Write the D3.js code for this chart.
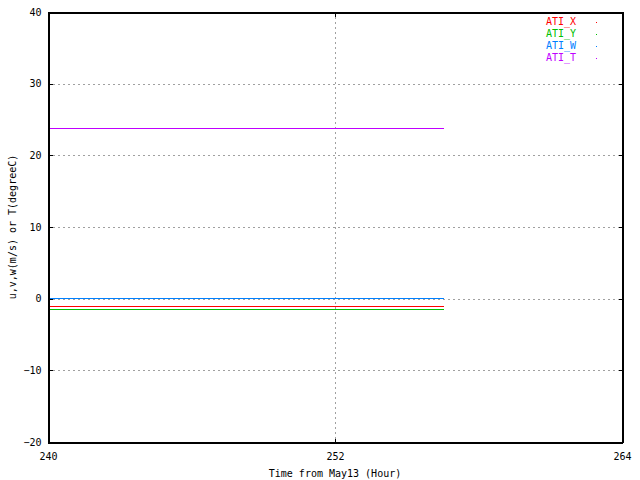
<!DOCTYPE html>
<html><head><meta charset="utf-8">
<script src="https://cdn.jsdelivr.net/npm/d3@7"></script>
<style>
html,body{margin:0;padding:0;background:#fff;}
text{font-family:"DejaVu Sans Mono","Liberation Mono",monospace;font-size:10px;fill:#000;}
</style></head>
<body>
<svg id="chart" width="640" height="480"></svg>
<script>
// Data
const times = [240, 256.54];
const seriesNames = ["ATI_X", "ATI_Y", "ATI_W", "ATI_T"];
const atiX = [-1.07, -1.07];
const atiY = [-1.44, -1.44];
const atiW = [0.1, 0.1];
const atiT = [23.8, 23.8];
const colors = ["#ff0000", "#00c000", "#0080ff", "#c000ff"];
const xTicks = [240, 252, 264];
const yTicks = [-20, -10, 0, 10, 20, 30, 40];

const svg = d3.select("#chart");
const L = 48, R = 622, T = 12, B = 442;
const x = d3.scaleLinear().domain([240, 264]).range([L, R]);
const y = d3.scaleLinear().domain([-20, 40]).range([B, T]);

svg.append("rect").attr("width", 640).attr("height", 480).attr("fill", "#fff");

// grid
const g = svg.append("g").attr("shape-rendering", "crispEdges");
g.selectAll(".gy").data(yTicks.filter(d => d > -20 && d < 40)).enter().append("line")
  .attr("x1", L).attr("x2", R).attr("y1", d => Math.round(y(d)) + 0.5).attr("y2", d => Math.round(y(d)) + 0.5)
  .attr("stroke", "#a0a0a0").attr("stroke-dasharray", "2,3");
g.selectAll(".gx").data(xTicks.filter(d => d > 240 && d < 264)).enter().append("line")
  .attr("y1", T).attr("y2", B).attr("x1", d => Math.round(x(d)) + 0.5).attr("x2", d => Math.round(x(d)) + 0.5)
  .attr("stroke", "#a0a0a0").attr("stroke-dasharray", "2,3");

// series
const seriesVals = [atiX, atiY, atiW, atiT];
const line = d3.line().x((d, i) => x(times[i])).y(d => Math.round(y(d)) + 0.5);
seriesVals.forEach((vals, k) => {
  svg.append("path").datum(vals).attr("d", line).attr("fill", "none")
    .attr("stroke", colors[k]).attr("stroke-width", 1.3).attr("shape-rendering", "crispEdges");
});

// axes (inner ticks, mirrored)
const ax = svg.append("g").attr("shape-rendering", "crispEdges");
const yAxisL = d3.axisLeft(y).tickValues(yTicks).tickSize(-4).tickPadding(7).tickFormat(d3.format("d"));
const yAxisR = d3.axisRight(y).tickValues(yTicks).tickSize(-4).tickFormat("");
const xAxisB = d3.axisBottom(x).tickValues(xTicks).tickSize(-4).tickPadding(10).tickFormat(d3.format("d"));
const xAxisT = d3.axisTop(x).tickValues(xTicks).tickSize(-4).tickFormat("");
ax.append("g").attr("transform", `translate(${L + 0.5},0)`).call(yAxisL);
ax.append("g").attr("transform", `translate(${R + 0.5},0)`).call(yAxisR);
ax.append("g").attr("transform", `translate(0,${B + 0.5})`).call(xAxisB);
ax.append("g").attr("transform", `translate(0,${T + 0.5})`).call(xAxisT);
ax.selectAll(".domain").attr("stroke", "#000");
ax.selectAll(".tick line").attr("stroke", "#000");
ax.selectAll("text").attr("font-family", "DejaVu Sans Mono").attr("font-size", 10).attr("fill", "#000");

// frame
svg.append("rect").attr("x", L + 0.5).attr("y", T + 0.5).attr("width", R - L).attr("height", B - T)
  .attr("fill", "none").attr("stroke", "#000").attr("shape-rendering", "crispEdges");

// axis labels
svg.append("text").attr("x", (L + R) / 2).attr("y", 477).attr("text-anchor", "middle").text("Time from May13 (Hour)");
svg.append("text").attr("transform", `translate(16,${(T + B) / 2}) rotate(-90)`).attr("text-anchor", "middle").text("u,v,w(m/s) or T(degreeC)");

// legend
const lg = svg.append("g");
seriesNames.forEach((name, k) => {
  const yy = 21 + k * 12;
  lg.append("text").attr("x", 576).attr("y", yy + 4).attr("text-anchor", "end").attr("fill", colors[k]).style("fill", colors[k]).text(name);
  lg.append("rect").attr("x", 596).attr("y", yy + 1).attr("width", 1).attr("height", 1).attr("fill", colors[k]);
});
</script>
</body></html>
